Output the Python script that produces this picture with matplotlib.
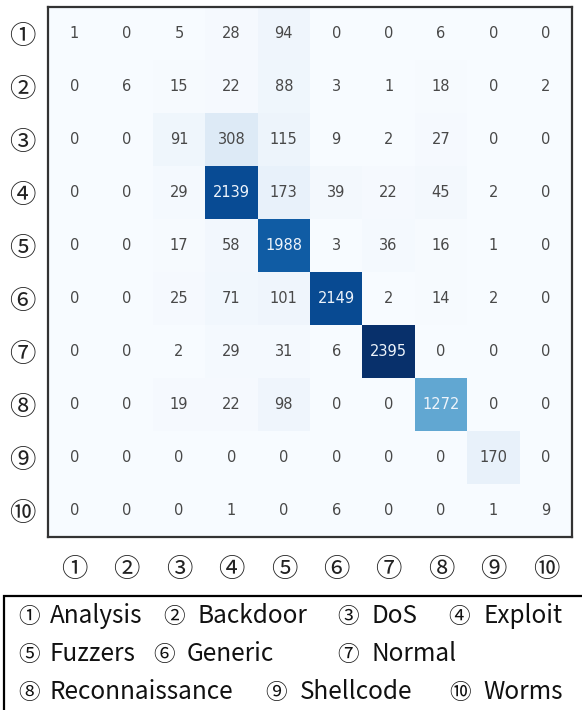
import numpy as np
import matplotlib
matplotlib.use("Agg")
import matplotlib.pyplot as plt
from matplotlib.patches import Rectangle

plt.rcParams['font.family'] = ['DejaVu Sans']

labels = ["①", "②", "③", "④", "⑤", "⑥", "⑦", "⑧", "⑨", "⑩"]
class_names = ["Analysis", "Backdoor", "DoS", "Exploit", "Fuzzers",
               "Generic", "Normal", "Reconnaissance", "Shellcode", "Worms"]
matrix = [
    [1, 0, 5, 28, 94, 0, 0, 6, 0, 0],
    [0, 6, 15, 22, 88, 3, 1, 18, 0, 2],
    [0, 0, 91, 308, 115, 9, 2, 27, 0, 0],
    [0, 0, 29, 2139, 173, 39, 22, 45, 2, 0],
    [0, 0, 17, 58, 1988, 3, 36, 16, 1, 0],
    [0, 0, 25, 71, 101, 2149, 2, 14, 2, 0],
    [0, 0, 2, 29, 31, 6, 2395, 0, 0, 0],
    [0, 0, 19, 22, 98, 0, 0, 1272, 0, 0],
    [0, 0, 0, 0, 0, 0, 0, 0, 170, 0],
    [0, 0, 0, 1, 0, 6, 0, 0, 1, 9],
]
legend_rows = [[0, 1, 2, 3], [4, 5, 6], [7, 8, 9]]

cm = np.array(matrix)
fig = plt.figure(figsize=(5.82, 7.10), dpi=100)
W, H = 582, 710
ax = fig.add_axes([48 / W, 1 - 537 / H, (572 - 48) / W, (537 - 7) / H])
vmax = cm.max()
ax.imshow(cm, cmap="Blues", vmin=0, vmax=vmax, aspect="auto", interpolation="nearest")
for i in range(cm.shape[0]):
    for j in range(cm.shape[1]):
        v = cm[i, j]
        col = "#eef4fb" if v > vmax / 2 else "#484848"
        ax.text(j, i, str(v), ha="center", va="center", fontsize=10.5, color=col)

ax.set_xticks(range(10))
ax.set_yticks(range(10))
cjk = ['Noto Sans CJK KR', 'DejaVu Sans']
ax.set_xticklabels(labels, fontsize=19, family=cjk, color="#222222")
ax.set_yticklabels(labels, fontsize=19, family=cjk, color="#222222")
ax.tick_params(axis="y", length=0, pad=9)
ax.tick_params(axis="x", length=0, pad=14)
for s in ax.spines.values():
    s.set_linewidth(1.6)
    s.set_color("#333333")

# legend box
box = Rectangle((4 / W, -0.01), 1.2, (710 - 596) / H + 0.01, transform=fig.transFigure,
                fill=False, edgecolor="black", linewidth=1.6, clip_on=False)
fig.add_artist(box)
digit_x = {0: 18, 1: 163, 2: 337, 3: 448, 4: 18, 5: 153, 6: 337, 7: 18, 8: 265, 9: 449}
name_x = {0: 50, 1: 197, 2: 372, 3: 484, 4: 50, 5: 187, 6: 372, 7: 50, 8: 300, 9: 483}
baselines = [623, 661, 699]
for r, row in enumerate(legend_rows):
    for k in row:
        yb = 1 - baselines[r] / H
        fig.text(digit_x[k] / W, yb, labels[k], fontsize=15.5, family=cjk,
                 ha="left", va="baseline", color="#111111")
        fig.text(name_x[k] / W, yb, class_names[k], fontsize=17.5, family=cjk,
                 ha="left", va="baseline", color="#111111")

fig.savefig("out.png", dpi=100)
